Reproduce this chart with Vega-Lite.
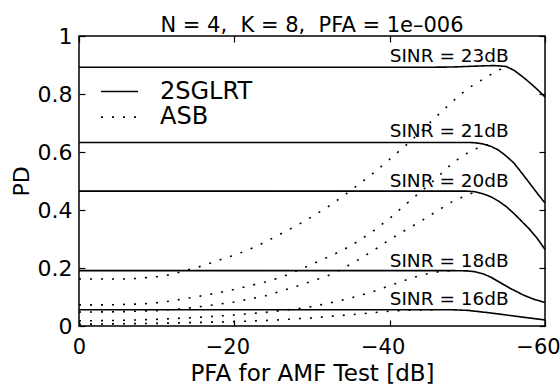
{
  "$schema": "https://vega.github.io/schema/vega-lite/v6.json",
  "width": 466,
  "height": 290,
  "autosize": "none",
  "padding": {"left": 79, "top": 36, "right": 15, "bottom": 64},
  "background": "white",
  "config": {
    "view": {"stroke": "black", "strokeWidth": 1.5},
    "font": "DejaVu Sans",
    "axis": {"grid": false, "domain": false, "tickColor": "black", "tickWidth": 1.2, "labelColor": "black", "titleColor": "black", "labelFont": "DejaVu Sans", "titleFont": "DejaVu Sans", "titleFontWeight": "normal", "labelFlush": false},
    "legend": {"orient": "none", "legendX": 21, "legendY": 43, "title": null, "labelFont": "DejaVu Sans", "labelFontSize": 24, "labelColor": "black", "symbolType": "stroke", "symbolSize": 1369, "symbolStrokeWidth": 1.6, "symbolStrokeColor": "black", "labelOffset": 21, "clipHeight": 25, "rowPadding": 0.6, "padding": 0}
  },
  "title": {"text": "N = 4,\u00a0 K = 8,\u00a0 PFA = 1e–006", "font": "DejaVu Sans", "fontSize": 21, "fontWeight": "normal", "color": "black", "frame": "group", "anchor": "middle", "offset": 4, "dy": 15},
  "datasets": {
    "curves": [
      {"x": 0, "pd": 0.892, "sinr": "23", "method": "2SGLRT"},
      {"x": -44, "pd": 0.892, "sinr": "23", "method": "2SGLRT"},
      {"x": -48, "pd": 0.893, "sinr": "23", "method": "2SGLRT"},
      {"x": -50, "pd": 0.895, "sinr": "23", "method": "2SGLRT"},
      {"x": -52, "pd": 0.897, "sinr": "23", "method": "2SGLRT"},
      {"x": -53.5, "pd": 0.898, "sinr": "23", "method": "2SGLRT"},
      {"x": -55, "pd": 0.895, "sinr": "23", "method": "2SGLRT"},
      {"x": -56, "pd": 0.882, "sinr": "23", "method": "2SGLRT"},
      {"x": -57, "pd": 0.862, "sinr": "23", "method": "2SGLRT"},
      {"x": -58, "pd": 0.84, "sinr": "23", "method": "2SGLRT"},
      {"x": -59, "pd": 0.816, "sinr": "23", "method": "2SGLRT"},
      {"x": -60, "pd": 0.79, "sinr": "23", "method": "2SGLRT"},
      {"x": 0, "pd": 0.633, "sinr": "21", "method": "2SGLRT"},
      {"x": -50, "pd": 0.633, "sinr": "21", "method": "2SGLRT"},
      {"x": -51, "pd": 0.632, "sinr": "21", "method": "2SGLRT"},
      {"x": -52, "pd": 0.628, "sinr": "21", "method": "2SGLRT"},
      {"x": -53, "pd": 0.62, "sinr": "21", "method": "2SGLRT"},
      {"x": -54, "pd": 0.607, "sinr": "21", "method": "2SGLRT"},
      {"x": -55, "pd": 0.586, "sinr": "21", "method": "2SGLRT"},
      {"x": -56, "pd": 0.562, "sinr": "21", "method": "2SGLRT"},
      {"x": -57, "pd": 0.528, "sinr": "21", "method": "2SGLRT"},
      {"x": -58, "pd": 0.493, "sinr": "21", "method": "2SGLRT"},
      {"x": -59, "pd": 0.458, "sinr": "21", "method": "2SGLRT"},
      {"x": -60, "pd": 0.424, "sinr": "21", "method": "2SGLRT"},
      {"x": 0, "pd": 0.465, "sinr": "20", "method": "2SGLRT"},
      {"x": -50, "pd": 0.465, "sinr": "20", "method": "2SGLRT"},
      {"x": -51, "pd": 0.463, "sinr": "20", "method": "2SGLRT"},
      {"x": -52, "pd": 0.456, "sinr": "20", "method": "2SGLRT"},
      {"x": -53, "pd": 0.446, "sinr": "20", "method": "2SGLRT"},
      {"x": -54, "pd": 0.431, "sinr": "20", "method": "2SGLRT"},
      {"x": -55, "pd": 0.412, "sinr": "20", "method": "2SGLRT"},
      {"x": -56, "pd": 0.388, "sinr": "20", "method": "2SGLRT"},
      {"x": -57, "pd": 0.361, "sinr": "20", "method": "2SGLRT"},
      {"x": -58, "pd": 0.334, "sinr": "20", "method": "2SGLRT"},
      {"x": -59, "pd": 0.302, "sinr": "20", "method": "2SGLRT"},
      {"x": -60, "pd": 0.264, "sinr": "20", "method": "2SGLRT"},
      {"x": 0, "pd": 0.191, "sinr": "18", "method": "2SGLRT"},
      {"x": -48, "pd": 0.191, "sinr": "18", "method": "2SGLRT"},
      {"x": -50, "pd": 0.19, "sinr": "18", "method": "2SGLRT"},
      {"x": -51, "pd": 0.187, "sinr": "18", "method": "2SGLRT"},
      {"x": -52, "pd": 0.18, "sinr": "18", "method": "2SGLRT"},
      {"x": -53, "pd": 0.169, "sinr": "18", "method": "2SGLRT"},
      {"x": -54.2, "pd": 0.15, "sinr": "18", "method": "2SGLRT"},
      {"x": -55.5, "pd": 0.13, "sinr": "18", "method": "2SGLRT"},
      {"x": -57.2, "pd": 0.107, "sinr": "18", "method": "2SGLRT"},
      {"x": -58.5, "pd": 0.093, "sinr": "18", "method": "2SGLRT"},
      {"x": -60, "pd": 0.081, "sinr": "18", "method": "2SGLRT"},
      {"x": 0, "pd": 0.056, "sinr": "16", "method": "2SGLRT"},
      {"x": -48, "pd": 0.056, "sinr": "16", "method": "2SGLRT"},
      {"x": -50, "pd": 0.054, "sinr": "16", "method": "2SGLRT"},
      {"x": -51, "pd": 0.051, "sinr": "16", "method": "2SGLRT"},
      {"x": -53, "pd": 0.045, "sinr": "16", "method": "2SGLRT"},
      {"x": -55, "pd": 0.038, "sinr": "16", "method": "2SGLRT"},
      {"x": -57, "pd": 0.031, "sinr": "16", "method": "2SGLRT"},
      {"x": -60, "pd": 0.021, "sinr": "16", "method": "2SGLRT"},
      {"x": 0, "pd": 0.162, "sinr": "23", "method": "ASB"},
      {"x": -6, "pd": 0.162, "sinr": "23", "method": "ASB"},
      {"x": -8, "pd": 0.165, "sinr": "23", "method": "ASB"},
      {"x": -10, "pd": 0.17, "sinr": "23", "method": "ASB"},
      {"x": -12, "pd": 0.178, "sinr": "23", "method": "ASB"},
      {"x": -14, "pd": 0.194, "sinr": "23", "method": "ASB"},
      {"x": -16, "pd": 0.208, "sinr": "23", "method": "ASB"},
      {"x": -18, "pd": 0.227, "sinr": "23", "method": "ASB"},
      {"x": -20, "pd": 0.244, "sinr": "23", "method": "ASB"},
      {"x": -22, "pd": 0.265, "sinr": "23", "method": "ASB"},
      {"x": -24, "pd": 0.29, "sinr": "23", "method": "ASB"},
      {"x": -26, "pd": 0.318, "sinr": "23", "method": "ASB"},
      {"x": -28, "pd": 0.346, "sinr": "23", "method": "ASB"},
      {"x": -30, "pd": 0.377, "sinr": "23", "method": "ASB"},
      {"x": -32, "pd": 0.41, "sinr": "23", "method": "ASB"},
      {"x": -34, "pd": 0.448, "sinr": "23", "method": "ASB"},
      {"x": -36, "pd": 0.488, "sinr": "23", "method": "ASB"},
      {"x": -38, "pd": 0.529, "sinr": "23", "method": "ASB"},
      {"x": -40, "pd": 0.575, "sinr": "23", "method": "ASB"},
      {"x": -42, "pd": 0.621, "sinr": "23", "method": "ASB"},
      {"x": -44, "pd": 0.67, "sinr": "23", "method": "ASB"},
      {"x": -46, "pd": 0.722, "sinr": "23", "method": "ASB"},
      {"x": -48, "pd": 0.772, "sinr": "23", "method": "ASB"},
      {"x": -50, "pd": 0.818, "sinr": "23", "method": "ASB"},
      {"x": -52, "pd": 0.851, "sinr": "23", "method": "ASB"},
      {"x": -53, "pd": 0.867, "sinr": "23", "method": "ASB"},
      {"x": -54, "pd": 0.882, "sinr": "23", "method": "ASB"},
      {"x": -55, "pd": 0.894, "sinr": "23", "method": "ASB"},
      {"x": 0, "pd": 0.073, "sinr": "21", "method": "ASB"},
      {"x": -4, "pd": 0.073, "sinr": "21", "method": "ASB"},
      {"x": -8, "pd": 0.076, "sinr": "21", "method": "ASB"},
      {"x": -10, "pd": 0.08, "sinr": "21", "method": "ASB"},
      {"x": -12, "pd": 0.087, "sinr": "21", "method": "ASB"},
      {"x": -14, "pd": 0.096, "sinr": "21", "method": "ASB"},
      {"x": -16, "pd": 0.105, "sinr": "21", "method": "ASB"},
      {"x": -18, "pd": 0.115, "sinr": "21", "method": "ASB"},
      {"x": -20, "pd": 0.126, "sinr": "21", "method": "ASB"},
      {"x": -22, "pd": 0.139, "sinr": "21", "method": "ASB"},
      {"x": -24, "pd": 0.152, "sinr": "21", "method": "ASB"},
      {"x": -26, "pd": 0.168, "sinr": "21", "method": "ASB"},
      {"x": -28, "pd": 0.19, "sinr": "21", "method": "ASB"},
      {"x": -30, "pd": 0.213, "sinr": "21", "method": "ASB"},
      {"x": -32, "pd": 0.237, "sinr": "21", "method": "ASB"},
      {"x": -34, "pd": 0.262, "sinr": "21", "method": "ASB"},
      {"x": -36, "pd": 0.293, "sinr": "21", "method": "ASB"},
      {"x": -38, "pd": 0.33, "sinr": "21", "method": "ASB"},
      {"x": -40, "pd": 0.371, "sinr": "21", "method": "ASB"},
      {"x": -42, "pd": 0.418, "sinr": "21", "method": "ASB"},
      {"x": -44, "pd": 0.463, "sinr": "21", "method": "ASB"},
      {"x": -46, "pd": 0.509, "sinr": "21", "method": "ASB"},
      {"x": -48, "pd": 0.56, "sinr": "21", "method": "ASB"},
      {"x": -49, "pd": 0.579, "sinr": "21", "method": "ASB"},
      {"x": -50, "pd": 0.596, "sinr": "21", "method": "ASB"},
      {"x": -51, "pd": 0.61, "sinr": "21", "method": "ASB"},
      {"x": -52, "pd": 0.62, "sinr": "21", "method": "ASB"},
      {"x": -53, "pd": 0.628, "sinr": "21", "method": "ASB"},
      {"x": 0, "pd": 0.048, "sinr": "20", "method": "ASB"},
      {"x": -5, "pd": 0.049, "sinr": "20", "method": "ASB"},
      {"x": -10, "pd": 0.053, "sinr": "20", "method": "ASB"},
      {"x": -12, "pd": 0.057, "sinr": "20", "method": "ASB"},
      {"x": -14, "pd": 0.062, "sinr": "20", "method": "ASB"},
      {"x": -16, "pd": 0.068, "sinr": "20", "method": "ASB"},
      {"x": -18, "pd": 0.075, "sinr": "20", "method": "ASB"},
      {"x": -20, "pd": 0.083, "sinr": "20", "method": "ASB"},
      {"x": -22, "pd": 0.093, "sinr": "20", "method": "ASB"},
      {"x": -24, "pd": 0.104, "sinr": "20", "method": "ASB"},
      {"x": -26, "pd": 0.12, "sinr": "20", "method": "ASB"},
      {"x": -28, "pd": 0.137, "sinr": "20", "method": "ASB"},
      {"x": -30, "pd": 0.155, "sinr": "20", "method": "ASB"},
      {"x": -32, "pd": 0.173, "sinr": "20", "method": "ASB"},
      {"x": -34, "pd": 0.198, "sinr": "20", "method": "ASB"},
      {"x": -36, "pd": 0.229, "sinr": "20", "method": "ASB"},
      {"x": -38, "pd": 0.262, "sinr": "20", "method": "ASB"},
      {"x": -40, "pd": 0.298, "sinr": "20", "method": "ASB"},
      {"x": -42, "pd": 0.33, "sinr": "20", "method": "ASB"},
      {"x": -44, "pd": 0.361, "sinr": "20", "method": "ASB"},
      {"x": -46, "pd": 0.395, "sinr": "20", "method": "ASB"},
      {"x": -48, "pd": 0.428, "sinr": "20", "method": "ASB"},
      {"x": -50, "pd": 0.452, "sinr": "20", "method": "ASB"},
      {"x": -51, "pd": 0.462, "sinr": "20", "method": "ASB"},
      {"x": 0, "pd": 0.018, "sinr": "18", "method": "ASB"},
      {"x": -5, "pd": 0.019, "sinr": "18", "method": "ASB"},
      {"x": -10, "pd": 0.023, "sinr": "18", "method": "ASB"},
      {"x": -15, "pd": 0.029, "sinr": "18", "method": "ASB"},
      {"x": -20, "pd": 0.038, "sinr": "18", "method": "ASB"},
      {"x": -24, "pd": 0.047, "sinr": "18", "method": "ASB"},
      {"x": -26, "pd": 0.053, "sinr": "18", "method": "ASB"},
      {"x": -28, "pd": 0.059, "sinr": "18", "method": "ASB"},
      {"x": -30, "pd": 0.067, "sinr": "18", "method": "ASB"},
      {"x": -32, "pd": 0.078, "sinr": "18", "method": "ASB"},
      {"x": -34, "pd": 0.09, "sinr": "18", "method": "ASB"},
      {"x": -36, "pd": 0.104, "sinr": "18", "method": "ASB"},
      {"x": -38, "pd": 0.12, "sinr": "18", "method": "ASB"},
      {"x": -40, "pd": 0.139, "sinr": "18", "method": "ASB"},
      {"x": -42, "pd": 0.158, "sinr": "18", "method": "ASB"},
      {"x": -44, "pd": 0.175, "sinr": "18", "method": "ASB"},
      {"x": -46, "pd": 0.186, "sinr": "18", "method": "ASB"},
      {"x": -48, "pd": 0.191, "sinr": "18", "method": "ASB"},
      {"x": 0, "pd": 0.006, "sinr": "16", "method": "ASB"},
      {"x": -10, "pd": 0.009, "sinr": "16", "method": "ASB"},
      {"x": -20, "pd": 0.015, "sinr": "16", "method": "ASB"},
      {"x": -25, "pd": 0.02, "sinr": "16", "method": "ASB"},
      {"x": -30, "pd": 0.028, "sinr": "16", "method": "ASB"},
      {"x": -35, "pd": 0.039, "sinr": "16", "method": "ASB"},
      {"x": -40, "pd": 0.051, "sinr": "16", "method": "ASB"},
      {"x": -43, "pd": 0.055, "sinr": "16", "method": "ASB"},
      {"x": -46, "pd": 0.056, "sinr": "16", "method": "ASB"}
    ],
    "labels": [
      {"x": -40, "pd": 0.912, "label": "SINR = 23dB"},
      {"x": -40, "pd": 0.653, "label": "SINR = 21dB"},
      {"x": -40, "pd": 0.48, "label": "SINR = 20dB"},
      {"x": -40, "pd": 0.204, "label": "SINR = 18dB"},
      {"x": -40, "pd": 0.073, "label": "SINR = 16dB"}
    ]
  },
  "layer": [
    {
      "data": {"name": "curves"},
      "mark": {"type": "line", "color": "black", "strokeWidth": 1.6, "strokeCap": "butt"},
      "encoding": {
        "x": {"field": "x", "type": "quantitative", "scale": {"domain": [0, -60], "nice": false, "zero": false},
              "axis": {"orient": "bottom", "values": [0, -20, -40, -60], "tickSize": -6, "labelFontSize": 21, "labelPadding": 16, "labelOffset": {"condition": {"test": "datum.value < 0", "value": -7}, "value": 0}, "title": "PFA for AMF Test [dB]", "titleFontSize": 23, "titlePadding": 5}},
        "y": {"field": "pd", "type": "quantitative", "scale": {"domain": [0, 1], "nice": false},
              "axis": {"orient": "left", "values": [0, 0.2, 0.4, 0.6, 0.8, 1], "format": ".1~f", "tickSize": -6, "labelFontSize": 22, "labelPadding": 13, "title": "PD", "titleFontSize": 22, "titlePadding": 4}},
        "detail": {"field": "sinr"},
        "strokeDash": {"field": "method", "type": "nominal", "scale": {"domain": ["2SGLRT", "ASB"], "range": [[1, 0], [2, 9]]}}
      }
    },
    {
      "data": {"name": "labels"},
      "mark": {"type": "text", "align": "left", "baseline": "alphabetic", "fontSize": 18.5, "font": "DejaVu Sans", "color": "black"},
      "encoding": {
        "x": {"field": "x", "type": "quantitative", "scale": {"domain": [0, -60], "nice": false, "zero": false},
              "axis": {"orient": "top", "values": [0, -20, -40, -60], "tickSize": -6, "labels": false, "title": null}},
        "y": {"field": "pd", "type": "quantitative", "scale": {"domain": [0, 1], "nice": false},
              "axis": {"orient": "right", "values": [0, 0.2, 0.4, 0.6, 0.8, 1], "tickSize": -6, "labels": false, "title": null}},
        "text": {"field": "label"}
      }
    }
  ],
  "resolve": {"axis": {"x": "independent", "y": "independent"}}
}
